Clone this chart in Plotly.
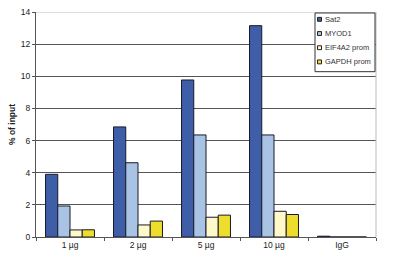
import plotly.graph_objects as go

categories = ["1 µg", "2 µg", "5 µg", "10 µg", "IgG"]
sat2 = [3.9, 6.85, 9.77, 13.15, 0.05]
myod1 = [1.93, 4.62, 6.35, 6.35, 0]
eif4a2 = [0.44, 0.75, 1.23, 1.6, 0]
gapdh = [0.45, 0.99, 1.36, 1.4, 0]
series_names = ["Sat2", "MYOD1", "EIF4A2 prom", "GAPDH prom"]
colors = ["#3E5EA8", "#A8C3E4", "#FFF8C8", "#EEDD2C"]

W, H = 400, 262
ML, MR, MT, MB = 36, 24, 7, 25
PW, PH = W - ML - MR, H - MT - MB

def px_x(x):
    return (x - ML) / PW

def px_y(y):
    return (H - MB - y) / PH

fig = go.Figure()
for name, vals, c in zip(series_names, [sat2, myod1, eif4a2, gapdh], colors):
    fig.add_trace(go.Bar(x=categories, y=vals, name=name, showlegend=False,
                         marker=dict(color=c, line=dict(color="#1a1a2a", width=1))))

shapes = [
    dict(type="line", xref="paper", yref="paper", x0=1, x1=1, y0=0, y1=1,
         line=dict(color="#bbb", width=1)),
    dict(type="line", xref="paper", yref="y", x0=0, x1=1, y0=14, y1=14,
         line=dict(color="#bbb", width=1)),
    dict(type="rect", xref="paper", yref="paper", x0=px_x(315), x1=px_x(375),
         y0=px_y(68), y1=px_y(8), fillcolor="white", line=dict(color="#333", width=1)),
]
annotations = []
for i, (name, c) in enumerate(zip(series_names, colors)):
    yc = 14.5 + i * 14.5
    shapes.append(dict(type="rect", xref="paper", yref="paper",
                       x0=px_x(317.5), x1=px_x(321.5), y0=px_y(yc + 2), y1=px_y(yc - 2),
                       fillcolor=c, line=dict(color="#222", width=1)))
    annotations.append(dict(xref="paper", yref="paper", x=px_x(322.5), y=px_y(yc),
                            xanchor="left", yanchor="middle", text=name, showarrow=False,
                            font=dict(size=7.5, color="#333")))

fig.update_layout(
    width=W, height=H,
    margin=dict(l=ML, r=MR, t=MT, b=MB),
    paper_bgcolor="white", plot_bgcolor="white",
    barmode="group", bargap=0.28, bargroupgap=0,
    font=dict(family="Liberation Sans, Arial", size=8, color="#222"),
    showlegend=False,
    shapes=shapes, annotations=annotations,
    xaxis=dict(showline=True, linecolor="#555", linewidth=1, ticks="outside",
               tickson="boundaries", ticklen=3, tickcolor="#555", mirror=False,
               tickfont=dict(size=8.5)),
    yaxis=dict(range=[0, 14], dtick=2, showgrid=True, gridcolor="#555", gridwidth=1,
               showline=True, linecolor="#555", ticks="outside", ticklen=3, tickcolor="#555",
               tickfont=dict(size=8.5), zeroline=False,
               title=dict(text="<b>% of input</b>", font=dict(size=8.5), standoff=3)),
)
fig.write_html("out.html")
